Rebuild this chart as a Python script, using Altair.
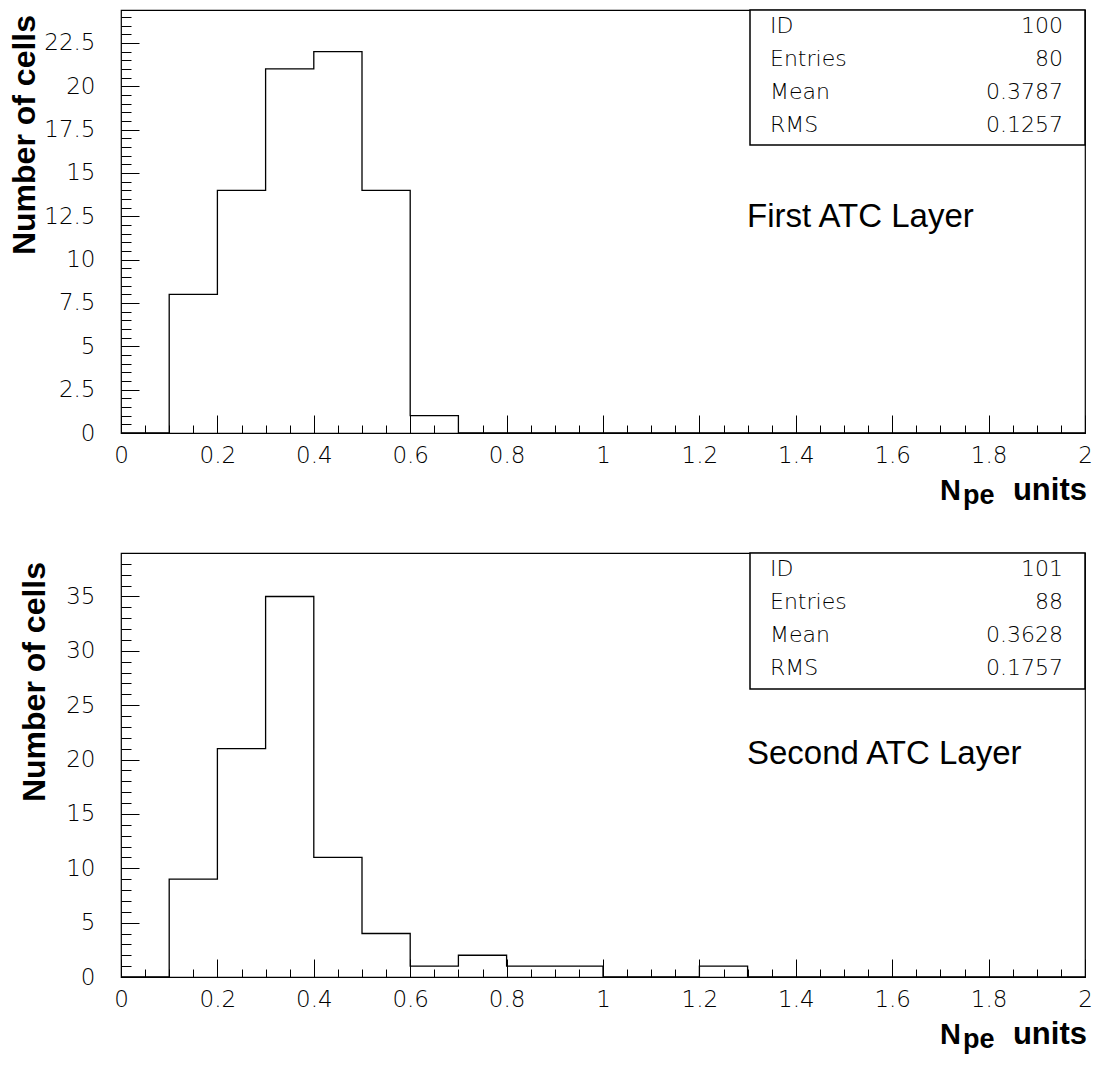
import altair as alt
import pandas as pd

# ---------------- data ----------------
bin_edges = [0.0, 0.1, 0.2, 0.3, 0.4, 0.5, 0.6, 0.7, 0.8, 0.9, 1.0,
             1.1, 1.2, 1.3, 1.4, 1.5, 1.6, 1.7, 1.8, 1.9, 2.0]
top_counts = [0, 8, 14, 21, 22, 14, 1, 0, 0, 0, 0, 0, 0, 0, 0, 0, 0, 0, 0, 0]
bottom_counts = [0, 9, 21, 35, 11, 4, 1, 2, 1, 1, 0, 0, 1, 0, 0, 0, 0, 0, 0, 0]

x_major = [0, 0.2, 0.4, 0.6, 0.8, 1.0, 1.2, 1.4, 1.6, 1.8, 2.0]
x_minor = [round(0.05 * i, 2) for i in range(41)]

top_y_major = [0, 2.5, 5, 7.5, 10, 12.5, 15, 17.5, 20, 22.5]
top_y_minor = [round(0.5 * i, 1) for i in range(49)]
bottom_y_major = [0, 5, 10, 15, 20, 25, 30, 35]
bottom_y_minor = list(range(39))

stat_names = ["ID", "Entries", "Mean", "RMS"]
top_stat_values = ["100", "80", "0.3787", "0.1257"]
bottom_stat_values = ["101", "88", "0.3628", "0.1757"]

THIN = "DejaVu Sans"
BOLD = "Liberation Sans"
W = 964


def panel(counts, ymax, y_major, y_minor, stat_values, layer_name,
          height, ytitle_x, ytitle_y, layer_y, box_h):
    df = pd.DataFrame({"edge": bin_edges, "count": counts + [0]})
    xs = alt.Scale(domain=[0, 2], nice=False, zero=False)
    ys = alt.Scale(domain=[0, ymax], nice=False, zero=False)
    common = dict(grid=False, domain=False, title=None, tickColor="black",
                  tickWidth=1, labelFlush=False, labelOverlap=False)

    hist = alt.Chart(df).mark_line(
        interpolate="step-after", color="black", strokeWidth=1.3
    ).encode(
        x=alt.X("edge:Q", scale=xs, axis=alt.Axis(
            orient="bottom", values=x_major, tickSize=18, offset=-18,
            labelPadding=11, format=".4~g", labelFont=THIN, labelFontWeight=200,
            labelFontSize=23, labelColor="black", **common)),
        y=alt.Y("count:Q", scale=ys, axis=alt.Axis(
            orient="left", values=y_major, tickSize=18, offset=-18,
            labelPadding=26, format=".4~g", labelFont=THIN, labelFontWeight=200,
            labelFontSize=23, labelColor="black", **common)),
        order="edge:Q",
    )

    minor = alt.Chart(df).mark_point(opacity=0).encode(
        x=alt.X("edge:Q", scale=xs, axis=alt.Axis(
            orient="bottom", values=x_minor, tickSize=8, offset=-8,
            labels=False, **common)),
        y=alt.Y("count:Q", scale=ys, axis=alt.Axis(
            orient="left", values=y_minor, tickSize=10, offset=-10,
            labels=False, **common)),
    )

    one = pd.DataFrame({"a": [0]})
    box = alt.Chart(one).mark_rect(
        fill="white", stroke="black", strokeWidth=1.5
    ).encode(x=alt.value(629), x2=alt.value(W), y=alt.value(0),
             y2=alt.value(box_h))

    sdf = pd.DataFrame({"name": stat_names, "val": stat_values,
                        "row": list(range(4))})
    stext = dict(font=THIN, fontWeight=200, fontSize=22, color="black",
                 baseline="middle")
    names = alt.Chart(sdf).transform_calculate(
        yp="16 + 33 * datum.row"
    ).mark_text(align="left", **stext).encode(
        x=alt.value(649), y=alt.Y("yp:Q", scale=None, axis=None),
        text="name:N")
    vals = alt.Chart(sdf).transform_calculate(
        yp="16 + 33 * datum.row"
    ).mark_text(align="right", **stext).encode(
        x=alt.value(W - 22), y=alt.Y("yp:Q", scale=None, axis=None),
        text="val:N")

    lname = alt.Chart(pd.DataFrame({"t": [layer_name]})).mark_text(
        align="left", baseline="middle", font=BOLD, fontSize=33,
        color="black"
    ).encode(x=alt.value(626), y=alt.value(layer_y), text="t:N")

    ytitle = alt.Chart(pd.DataFrame({"t": ["Number of cells"]})).mark_text(
        angle=270, align="center", baseline="middle", font=BOLD,
        fontWeight="bold", fontSize=32, color="black"
    ).encode(x=alt.value(ytitle_x), y=alt.value(ytitle_y), text="t:N")

    xt = dict(baseline="alphabetic", font=BOLD, fontWeight="bold",
              color="black")
    t_units = alt.Chart(pd.DataFrame({"t": ["units"]})).mark_text(
        fontSize=31, align="right", **xt).encode(
        x=alt.value(W + 2), y=alt.value(height + 67), text="t:N")
    t_pe = alt.Chart(pd.DataFrame({"t": ["pe"]})).mark_text(
        fontSize=27, align="left", **xt).encode(
        x=alt.value(W - 122), y=alt.value(height + 71), text="t:N")
    t_n = alt.Chart(pd.DataFrame({"t": ["N"]})).mark_text(
        fontSize=29, align="right", **xt).encode(
        x=alt.value(W - 124), y=alt.value(height + 67), text="t:N")

    return alt.layer(
        hist, minor, box, names, vals, lname, ytitle, t_units, t_pe, t_n
    ).resolve_axis(x="independent", y="independent").properties(
        width=W, height=height)


top = panel(top_counts, 24.4, top_y_major, top_y_minor, top_stat_values,
            "First ATC Layer", 423, -96, 125, 207, 135)
bottom = panel(bottom_counts, 39, bottom_y_major, bottom_y_minor,
               bottom_stat_values, "Second ATC Layer", 424, -86, 129, 201, 136)

chart = alt.vconcat(top, bottom, spacing=120, bounds="flush").properties(
    padding={"left": 0, "top": 0, "right": 0, "bottom": 0}
).configure_view(stroke="black", strokeWidth=1.2)

chart.save("out.html", embed_options={"renderer": "svg", "actions": False})
